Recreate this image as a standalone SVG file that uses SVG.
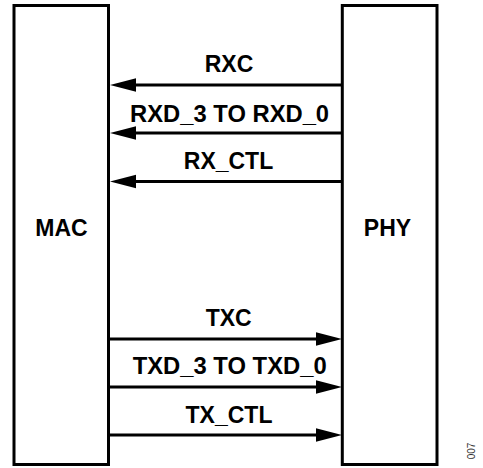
<svg xmlns="http://www.w3.org/2000/svg" width="483" height="468" viewBox="0 0 483 468">
<style>
.box{fill:#fff;stroke:#000;stroke-width:3}
.lbl{font-family:"Liberation Sans",Arial,sans-serif;font-weight:bold;font-size:23px;fill:#000;text-anchor:middle}
.sig{font-family:"Liberation Sans",Arial,sans-serif;font-weight:bold;font-size:23px;fill:#000;text-anchor:middle}
.wire{stroke:#000;stroke-width:3;fill:none}
.head{fill:#000}
.code{font-family:"Liberation Sans",Arial,sans-serif;font-size:10px;fill:#333;text-anchor:middle}
</style>
<rect width="483" height="468" fill="#fff"/>
<g id="mac">
<rect class="box" x="14" y="5.5" width="94.5" height="459"/>
<text class="lbl" x="61.5" y="236">MAC</text>
</g>
<g id="phy">
<rect class="box" x="342.3" y="5.5" width="94.7" height="459"/>
<text class="lbl" x="387.5" y="236">PHY</text>
</g>
<g id="connectors">
<line class="wire" x1="342" y1="85" x2="130" y2="85"/>
<polygon class="head" points="110,85 136,78.3 136,91.7"/>
<text class="sig" x="229" y="72">RXC</text>
<line class="wire" x1="342" y1="133" x2="130" y2="133"/>
<polygon class="head" points="110,133 136,126.3 136,139.7"/>
<text class="sig" x="229.6" y="121.5" textLength="199" lengthAdjust="spacingAndGlyphs">RXD_3 TO RXD_0</text>
<line class="wire" x1="342" y1="181.5" x2="130" y2="181.5"/>
<polygon class="head" points="110,181.5 136,174.8 136,188.2"/>
<text class="sig" x="228.5" y="169">RX_CTL</text>
<line class="wire" x1="110" y1="339" x2="322" y2="339"/>
<polygon class="head" points="342,339 316,332.3 316,345.7"/>
<text class="sig" x="228.7" y="326">TXC</text>
<line class="wire" x1="110" y1="387" x2="322" y2="387"/>
<polygon class="head" points="342,387 316,380.3 316,393.7"/>
<text class="sig" x="229.7" y="374" textLength="194" lengthAdjust="spacingAndGlyphs">TXD_3 TO TXD_0</text>
<line class="wire" x1="110" y1="435" x2="322" y2="435"/>
<polygon class="head" points="342,435 316,428.3 316,441.7"/>
<text class="sig" x="229" y="422.5">TX_CTL</text>
</g>
<text class="code" transform="translate(475,451) rotate(-90)">007</text>
</svg>
